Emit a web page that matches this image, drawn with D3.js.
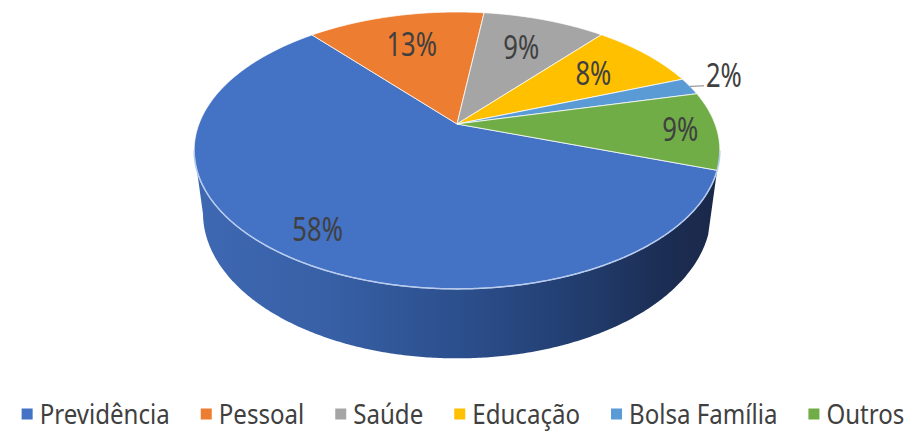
<!DOCTYPE html>
<html>
<head>
<meta charset="utf-8">
<script src="https://cdn.jsdelivr.net/npm/d3@7"></script>
<style>
  html, body { margin: 0; padding: 0; background: #ffffff; }
  svg { display: block; }
  text { font-family: "Noto Sans", "Open Sans", "Liberation Sans", sans-serif; }
</style>
</head>
<body>
<svg id="chart" width="917" height="432"></svg>
<script>
// ---- data ----
const categories = ["Previdência", "Pessoal", "Saúde", "Educação", "Bolsa Família", "Outros"];
const values = [58, 13, 9, 8, 2, 9];
const labels = ["58%", "13%", "9%", "8%", "2%", "9%"];
const colors = ["#4472C4", "#ED7D31", "#A5A5A5", "#FFC000", "#5B9BD5", "#70AD47"];
const sideColors = ["url(#sideBlue)", "#a85a22", "#767676", "#b88a00", "#3f6f9a", "#4e7a31"];

// ---- projection (3D pie in perspective) ----
const W = 917, H = 432;
const P = { cx: 457, cy: 124, s: 258, alpha: Math.asin(0.517), D: 4.48, h: 0.29 };
const sa = Math.sin(P.alpha), ca = Math.cos(P.alpha);
function proj(a, r, z) {
  const x = Math.sin(a) * r, y = Math.cos(a) * r;
  const Y = y * sa + z * ca, Z = y * ca - z * sa;
  const k = P.D / (P.D + Z);
  return [P.cx + P.s * x * k, P.cy - P.s * Y * k];
}
const rad = d => d * Math.PI / 180;
const startDeg = 109;

const svg = d3.select("#chart");
svg.append("rect").attr("width", W).attr("height", H).attr("fill", "#ffffff");

const defs = svg.append("defs");
const g1 = defs.append("linearGradient").attr("id", "sideBlue")
  .attr("gradientUnits", "userSpaceOnUse")
  .attr("x1", 195).attr("y1", 0).attr("x2", 722).attr("y2", 0);
[[0, "#3e68b2"], [0.25, "#3760a6"], [0.5, "#2c4f8d"], [0.72, "#223e70"], [0.88, "#1c2e55"], [1, "#1a2848"]]
  .forEach(([o, c]) => g1.append("stop").attr("offset", o).attr("stop-color", c));

const pie = d3.pie().sort(null).value(d => d)
  .startAngle(rad(startDeg)).endAngle(rad(startDeg + 360));
const arcs = pie(values);

// silhouette angles (extreme screen x of the rim)
function findExtreme(lo, hi, sign) {
  let best = lo, bv = -Infinity;
  for (let d = lo; d <= hi; d += 0.1) {
    const v = sign * proj(rad(d), 1, 0)[0];
    if (v > bv) { bv = v; best = d; }
  }
  return rad(best);
}
const aRight = findExtreme(60, 140, 1);
const aLeft = findExtreme(220, 300, -1);

const line = d3.line();
function sampleAngles(a0, a1) {
  const n = Math.max(2, Math.ceil(Math.abs(a1 - a0) / rad(0.5)));
  return d3.range(n + 1).map(i => a0 + (a1 - a0) * i / n);
}

// ---- sides (front part only) ----
const gSide = svg.append("g");
arcs.forEach((d, i) => {
  const a0 = Math.max(d.startAngle, aRight), a1 = Math.min(d.endAngle, aLeft);
  if (a1 <= a0) return;
  const angs = sampleAngles(a0, a1);
  const pts = angs.map(a => proj(a, 1, 0)).concat(angs.slice().reverse().map(a => proj(a, 1, -P.h)));
  gSide.append("path").attr("d", line(pts) + "Z")
    .attr("fill", sideColors[i]).attr("stroke", "none");
});

// ---- top faces ----
const gTop = svg.append("g");
arcs.forEach((d, i) => {
  const angs = sampleAngles(d.startAngle, d.endAngle);
  const pts = [proj(0, 0, 0)].concat(angs.map(a => proj(a, 1, 0)));
  gTop.append("path").attr("d", line(pts) + "Z")
    .attr("fill", colors[i])
    .attr("stroke", "#ffffff").attr("stroke-opacity", 0.75).attr("stroke-width", 1)
    .attr("stroke-linejoin", "round");
});

// front rim highlight
svg.append("path")
  .attr("d", line(sampleAngles(aRight, aLeft).map(a => proj(a, 1, 0))))
  .attr("fill", "none").attr("stroke", "#b7cbee").attr("stroke-width", 1.5);

// ---- data labels ----
const labFont = 32, labScaleX = 0.8;
const labelR = [0.83, 0.7, 0.7, 0.7, null, 0.86];
const gLab = svg.append("g").attr("fill", "#404040").attr("font-size", labFont);
arcs.forEach((d, i) => {
  const mid = (d.startAngle + d.endAngle) / 2;
  if (labelR[i] !== null) {
    const [x, y] = proj(mid, labelR[i], 0);
    gLab.append("text").attr("transform", `translate(${x},${y}) scale(${labScaleX},1)`)
      .attr("dy", "0.36em").attr("text-anchor", "middle").text(labels[i]);
  } else {
    const [x0, y0] = proj(mid, 1, 0);
    gLab.append("line").attr("x1", x0).attr("y1", y0).attr("x2", x0 + 14).attr("y2", y0 - 0.5)
      .attr("stroke", "#7f7f7f").attr("stroke-width", 1);
    gLab.append("text").attr("transform", `translate(${x0 + 16},${y0 + 1}) scale(${labScaleX},1)`)
      .attr("text-anchor", "start").text(labels[i]);
  }
});

// ---- legend ----
const legFont = 28, legScaleX = 0.86, sq = 11, sqGap = 7, itemGap = 31, legY = 414;
const gLeg = svg.append("g").attr("font-size", legFont).attr("fill", "#404040");
const items = categories.map((c, i) => {
  const g = gLeg.append("g");
  g.append("rect").attr("width", sq).attr("height", sq).attr("y", legY - sq / 2).attr("fill", colors[i]);
  const t = g.append("text").attr("transform", `translate(${sq + sqGap},${legY}) scale(${legScaleX},1)`)
    .attr("dy", "0.35em").text(c);
  return { g, w: sq + sqGap + t.node().getComputedTextLength() * legScaleX };
});
const total = d3.sum(items, d => d.w) + itemGap * (items.length - 1);
let xPos = 463 - total / 2;
items.forEach(it => { it.g.attr("transform", `translate(${xPos},0)`); xPos += it.w + itemGap; });
</script>
</body>
</html>
